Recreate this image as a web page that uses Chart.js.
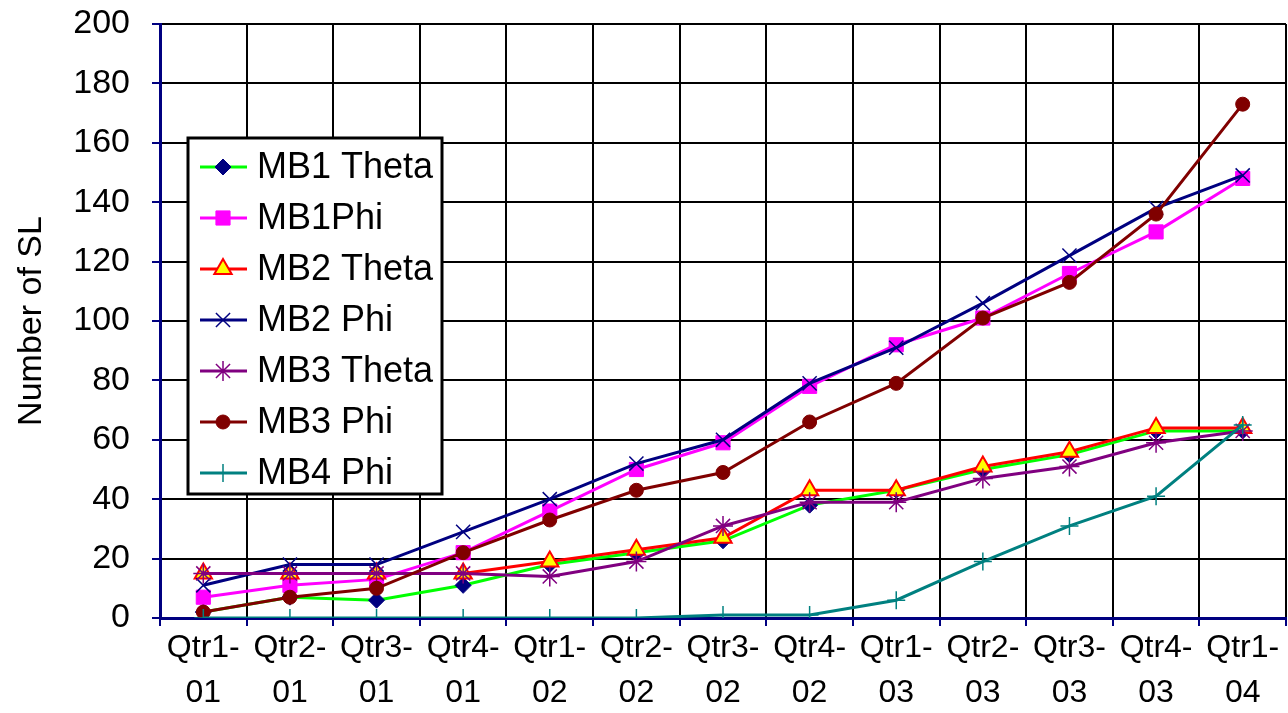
<!DOCTYPE html>
<html>
<head>
<meta charset="utf-8">
<script src="https://cdn.jsdelivr.net/npm/chart.js@4.4.1/dist/chart.umd.min.js"></script>
<style>
  html, body { margin: 0; padding: 0; background: #fff; overflow: hidden; }
  canvas { display: block; }
</style>
</head>
<body>
<!-- a bit wider than the window: Chart.js keeps ~12px free on the right, the original plot runs to the edge -->
<canvas id="slChart" width="1298" height="713"></canvas>
<script>
// quarters on the x axis, two lines each
const quarters = [
  ['Qtr1-', '01'], ['Qtr2-', '01'], ['Qtr3-', '01'], ['Qtr4-', '01'],
  ['Qtr1-', '02'], ['Qtr2-', '02'], ['Qtr3-', '02'], ['Qtr4-', '02'],
  ['Qtr1-', '03'], ['Qtr2-', '03'], ['Qtr3-', '03'], ['Qtr4-', '03'],
  ['Qtr1-', '04']
];

const mb1Theta = [2, 7, 6, 11, 18, 22, 26, 38, 43, 50, 55, 63, 63];
const mb1Phi   = [7, 11, 13, 22, 36, 50, 59, 78, 92, 101, 116, 130, 148];
const mb2Theta = [15, 15, 15, 15, 19, 23, 27, 43, 43, 51, 56, 64, 64];
const mb2Phi   = [11, 18, 18, 29, 40, 52, 60, 79, 91, 106, 122, 138, 149];
const mb3Theta = [15, 15, 15, 15, 14, 19, 31, 39, 39, 47, 51, 59, 63];
const mb3Phi   = [2, 7, 10, 22, 33, 43, 49, 66, 79, 101, 113, 136, 173];
const mb4Phi   = [0, 0, 0, 0, 0, 0, 1, 1, 6, 19, 31, 41, 65];

const yTicks = [0, 20, 40, 60, 80, 100, 120, 140, 160, 180, 200];

const fontFam = 'Arial, "Liberation Sans", sans-serif';

function series(label, data, line, style, fill, border, radius, bw, order) {
  return {
    label: label,
    data: data,
    borderColor: line,
    borderWidth: 3,
    pointStyle: style,
    pointRadius: radius,
    pointHoverRadius: radius,
    pointBackgroundColor: fill,
    pointBorderColor: border,
    pointBorderWidth: bw,
    tension: 0,
    fill: false,
    order: order
  };
}

// legend drawn inside the plot, like the original
const legendBox = {
  id: 'legendBox',
  afterDraw(chart) {
    const ctx = chart.ctx;
    ctx.save();
    ctx.fillStyle = '#fff';
    ctx.fillRect(188, 138, 254, 356);
    ctx.lineWidth = 3;
    ctx.strokeStyle = '#000';
    ctx.strokeRect(188, 138, 254, 356);
    chart.data.datasets.forEach((ds, i) => {
      const y = 167 + i * 51;
      ctx.strokeStyle = ds.borderColor;
      ctx.lineWidth = 3;
      ctx.beginPath();
      ctx.moveTo(200, y);
      ctx.lineTo(247, y);
      ctx.stroke();
      ctx.fillStyle = ds.pointBackgroundColor;
      ctx.strokeStyle = ds.pointBorderColor;
      ctx.lineWidth = ds.pointBorderWidth;
      Chart.helpers.drawPoint(ctx, {
        pointStyle: ds.pointStyle,
        radius: ds.pointRadius,
        rotation: 0,
        borderWidth: ds.pointBorderWidth
      }, 223, y);
      ctx.fillStyle = '#000';
      ctx.font = '36px ' + fontFam;
      ctx.textBaseline = 'middle';
      ctx.textAlign = 'left';
      ctx.fillText(ds.label, 257, y + 1);
    });
    ctx.restore();
  }
};

new Chart(document.getElementById('slChart'), {
  type: 'line',
  data: {
    labels: quarters,
    datasets: [
      series('MB1 Theta', mb1Theta, '#00ff00', 'rectRot', '#000080', '#000080', 8, 1, 6),
      series('MB1Phi', mb1Phi, '#ff00ff', 'rect', '#ff00ff', '#ff00ff', 10, 1, 5),
      series('MB2 Theta', mb2Theta, '#ff0000', 'triangle', '#ffff00', '#ff0000', 10, 2, 4),
      series('MB2 Phi', mb2Phi, '#000080', 'crossRot', '#000080', '#000080', 10, 1.5, 3),
      series('MB3 Theta', mb3Theta, '#800080', 'star', '#800080', '#800080', 10, 1.5, 2),
      series('MB3 Phi', mb3Phi, '#800000', 'circle', '#800000', '#800000', 7, 1, 1),
      series('MB4 Phi', mb4Phi, '#008080', 'cross', '#008080', '#008080', 9, 1.5, 0)
    ]
  },
  options: {
    responsive: false,
    animation: false,
    layout: { padding: { top: 24, right: 0, left: 0, bottom: 0 } },
    plugins: {
      legend: { display: false },
      tooltip: { enabled: false }
    },
    scales: {
      x: {
        offset: true,
        grid: { color: '#000', lineWidth: 2, tickColor: '#000080', tickLength: 8, offset: true },
        border: { color: '#000080', width: 3 },
        ticks: {
          color: '#000',
          font: { family: fontFam, size: 32, lineHeight: 1.4 },
          padding: 0,
          maxRotation: 0,
          autoSkip: false
        },
        afterFit: s => {
          s.height = 95;
          s.paddingLeft = 0;
          s.paddingRight = 0;
        }
      },
      y: {
        min: 0,
        max: 200,
        afterBuildTicks: s => { s.ticks = yTicks.map(v => ({ value: v })); },
        grid: { color: '#000', lineWidth: 2, tickColor: '#000080', tickLength: 8 },
        border: { color: '#000080', width: 3 },
        ticks: {
          color: '#000',
          font: { family: fontFam, size: 34 },
          padding: 22
        },
        title: {
          display: true,
          text: 'Number of SL',
          color: '#000',
          font: { family: fontFam, size: 34 },
          padding: { top: 11, bottom: 0 }
        },
        afterFit: s => {
          s.width = 160;
          s.paddingTop = 0;
          s.paddingBottom = 0;
        }
      }
    }
  },
  plugins: [legendBox]
});
</script>
</body>
</html>
